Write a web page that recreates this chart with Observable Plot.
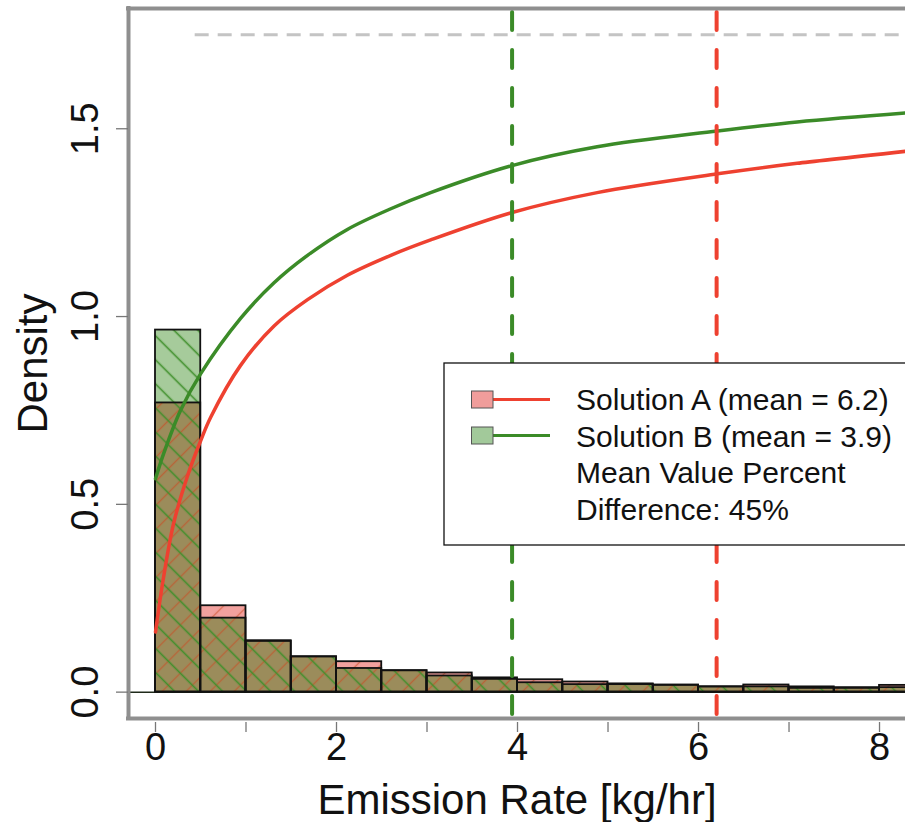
<!DOCTYPE html>
<html><head><meta charset="utf-8">
<script src="https://cdn.jsdelivr.net/npm/d3@7"></script>
<script src="https://cdn.jsdelivr.net/npm/@observablehq/plot@0.6"></script>
<style>
html,body{margin:0;padding:0;background:#fff;overflow:hidden;}
#chart svg{display:block;font-family:"Liberation Sans",Arial,Helvetica,sans-serif;}
</style></head><body><div id="chart"></div>
<script>
// ---- data ----
const binStart = [0,0.5,1,1.5,2,2.5,3,3.5,4,4.5,5,5.5,6,6.5,7,7.5,8];
const binWidth = 0.5;
const densityA = [0.770,0.230,0.137,0.094,0.081,0.057,0.051,0.038,0.033,0.027,0.022,0.019,0.014,0.019,0.014,0.012,0.018];
const densityB = [0.964,0.197,0.135,0.094,0.063,0.057,0.043,0.034,0.025,0.020,0.020,0.018,0.014,0.014,0.010,0.010,0.012];
const curveAx = [0,0.09,0.2,0.35,0.5,0.61,0.94,1.31,1.68,2.12,2.6,3.04,3.94,4.88,6.21,7.09,8.29];
const curveAy = [0.160,0.307,0.449,0.573,0.670,0.732,0.870,0.975,1.045,1.110,1.163,1.204,1.277,1.330,1.380,1.408,1.440];
const curveBx = [0,0.09,0.276,0.5,0.94,1.31,1.68,2.12,2.6,3.04,3.94,4.88,6.21,7.09,8.29];
const curveBy = [0.568,0.635,0.750,0.848,0.995,1.090,1.163,1.232,1.287,1.330,1.402,1.452,1.494,1.518,1.542];
const meanA = 6.2;
const meanB = 3.94;
const refLevel = 1.75;
const refStart = 0.35;
const xTicks = [0,1,2,3,4,5,6,7,8];
const xLabelTicks = [0,2,4,6,8];
const yTicks = [0,0.5,1,1.5];
const xTitle = "Emission Rate [kg/hr]";
const yTitle = "Density";
const legendLabels = ["Solution A (mean = 6.2)","Solution B (mean = 3.9)","Mean Value Percent","Difference: 45%"];

// ---- styling ----
const xDomain = [-0.2983, 8.287];
const yDomain = [-0.0702, 1.8202];
const red = "#ee4130", green = "#3b8b28";
const pink = "#f2a19e", lightGreen = "#a6cb9b", olive = "#9b8c5b";
const swatchPink = "#f09d9b", swatchGreen = "#a2c99a";
const frameGray = "#8f8f8f";

const bins = binStart.map((x0, i) => ({x1: x0, x2: x0 + binWidth, a: densityA[i], b: densityB[i]}));
const lineA = curveAx.map((x, i) => ({x, y: curveAy[i]}));
const lineB = curveBx.map((x, i) => ({x, y: curveBy[i]}));

function defsMark() {
  const defs = d3.create("svg:defs");
  const pA = defs.append("pattern").attr("id", "hatchA").attr("patternUnits", "userSpaceOnUse")
    .attr("width", 17).attr("height", 17).attr("patternTransform", "rotate(45)");
  pA.append("line").attr("x1", 8.5).attr("x2", 8.5).attr("y1", -1).attr("y2", 18)
    .attr("stroke", "#cc4a22").attr("stroke-opacity", 0.6).attr("stroke-width", 1.4);
  const pB = defs.append("pattern").attr("id", "hatchB").attr("patternUnits", "userSpaceOnUse")
    .attr("width", 17).attr("height", 17).attr("patternTransform", "rotate(-45)");
  pB.append("line").attr("x1", 8.5).attr("x2", 8.5).attr("y1", -1).attr("y2", 18)
    .attr("stroke", "#3f8f2b").attr("stroke-width", 1.6);
  return defs.node();
}

function legendMark() {
  const g = d3.create("svg:g");
  const left = 444, top = 363;
  g.append("rect").attr("x", left).attr("y", top).attr("width", 480).attr("height", 182)
    .attr("fill", "white").attr("stroke", "#111").attr("stroke-width", 1.3);
  [[swatchPink, red], [swatchGreen, green]].forEach(([f, c], i) => {
    const cy = top + 36.5 + i * 36;
    g.append("line").attr("x1", left + 49).attr("x2", left + 106).attr("y1", cy).attr("y2", cy)
      .attr("stroke", c).attr("stroke-width", 3.2);
    g.append("rect").attr("x", left + 27.5).attr("y", cy - 8.5).attr("width", 21.5).attr("height", 17)
      .attr("fill", f).attr("stroke", "#555").attr("stroke-width", 1);
  });
  legendLabels.forEach((t, i) => {
    g.append("text").attr("x", left + 132).attr("y", top + 47 + i * 36.7)
      .attr("text-anchor", "start").attr("font-size", 30).attr("fill", "#111").text(t);
  });
  return g.node();
}

const plot = Plot.plot({
  width: 905, height: 822,
  marginLeft: 128, marginRight: 0, marginTop: 8, marginBottom: 104,
  x: {domain: xDomain, axis: null},
  y: {domain: yDomain, axis: null},
  style: {background: "white", fontFamily: "'Liberation Sans', Arial, Helvetica, sans-serif"},
  marks: [
    defsMark,
    Plot.ruleY([0], {y: d => d, x1: () => xDomain[0], x2: () => xDomain[1], stroke: "#1f2a1a", strokeWidth: 1.5}),
    Plot.rect(bins, {x1: "x1", x2: "x2", y1: () => 0, y2: "a", fill: pink, clip: true}),
    Plot.rect(bins, {x1: "x1", x2: "x2", y1: () => 0, y2: "b", fill: lightGreen, clip: true}),
    Plot.rect(bins, {x1: "x1", x2: "x2", y1: () => 0, y2: d => Math.min(d.a, d.b), fill: olive, clip: true}),
    Plot.rect(bins, {x1: "x1", x2: "x2", y1: () => 0, y2: "a", fill: "url(#hatchA)", clip: true}),
    Plot.rect(bins, {x1: "x1", x2: "x2", y1: () => 0, y2: "b", fill: "url(#hatchB)", clip: true}),
    Plot.rect(bins, {x1: "x1", x2: "x2", y1: () => 0, y2: "a", fill: "none", stroke: "#111", strokeWidth: 1.8, clip: true}),
    Plot.rect(bins, {x1: "x1", x2: "x2", y1: () => 0, y2: "b", fill: "none", stroke: "#111", strokeWidth: 1.8, clip: true}),
    Plot.line(lineA, {x: "x", y: "y", stroke: red, strokeWidth: 3.5, curve: "catmull-rom"}),
    Plot.line(lineB, {x: "x", y: "y", stroke: green, strokeWidth: 3.5, curve: "catmull-rom"}),
    Plot.ruleX([meanB], {x: d => d, y1: () => yDomain[1], y2: () => yDomain[0], stroke: green, strokeWidth: 4,
      strokeDasharray: "18,20", strokeDashoffset: -4, strokeLinecap: "round"}),
    Plot.ruleX([meanA], {x: d => d, y1: () => yDomain[1], y2: () => yDomain[0], stroke: red, strokeWidth: 4,
      strokeDasharray: "18,20", strokeDashoffset: -4, strokeLinecap: "round"}),
    Plot.ruleY([refLevel], {y: d => d, x1: () => refStart, x2: () => xDomain[1], stroke: "#c4c4c4", strokeWidth: 3,
      strokeDasharray: "14,9", strokeDashoffset: 15}),
    // frame
    Plot.ruleX([xDomain[0]], {x: d => d, y1: () => yDomain[0], y2: () => yDomain[1], stroke: frameGray, strokeWidth: 4, strokeLinecap: "square"}),
    Plot.ruleY([yDomain[0], yDomain[1]], {y: d => d, x1: () => xDomain[0], x2: () => xDomain[1], stroke: frameGray, strokeWidth: 4, strokeLinecap: "square"}),
    // axes
    Plot.axisX(xTicks, {tickSize: 10, tickFormat: () => "", stroke: "#777", strokeWidth: 1.3, dy: 4, label: null}),
    Plot.axisY(yTicks, {tickSize: 12, tickFormat: () => "", stroke: "#777", strokeWidth: 1.3, label: null}),
    Plot.text(xLabelTicks, {x: d => d, text: d => String(d), frameAnchor: "bottom", dy: 15, lineAnchor: "top", fontSize: 38, fill: "#111"}),
    Plot.text(yTicks, {y: d => d, text: d => d.toFixed(1), frameAnchor: "left", dx: -31, rotate: -90,
      textAnchor: "middle", lineAnchor: "bottom", fontSize: 38, fill: "#111"}),
    Plot.text([xTitle], {text: d => d, frameAnchor: "bottom", dy: 95, lineAnchor: "bottom", fontSize: 42, fill: "#111"}),
    Plot.text([yTitle], {text: d => d, frameAnchor: "left", dx: -82, rotate: -90, textAnchor: "middle", lineAnchor: "bottom", fontSize: 42, fill: "#111"}),
    legendMark
  ]
});
document.getElementById("chart").appendChild(plot);
</script></body></html>
